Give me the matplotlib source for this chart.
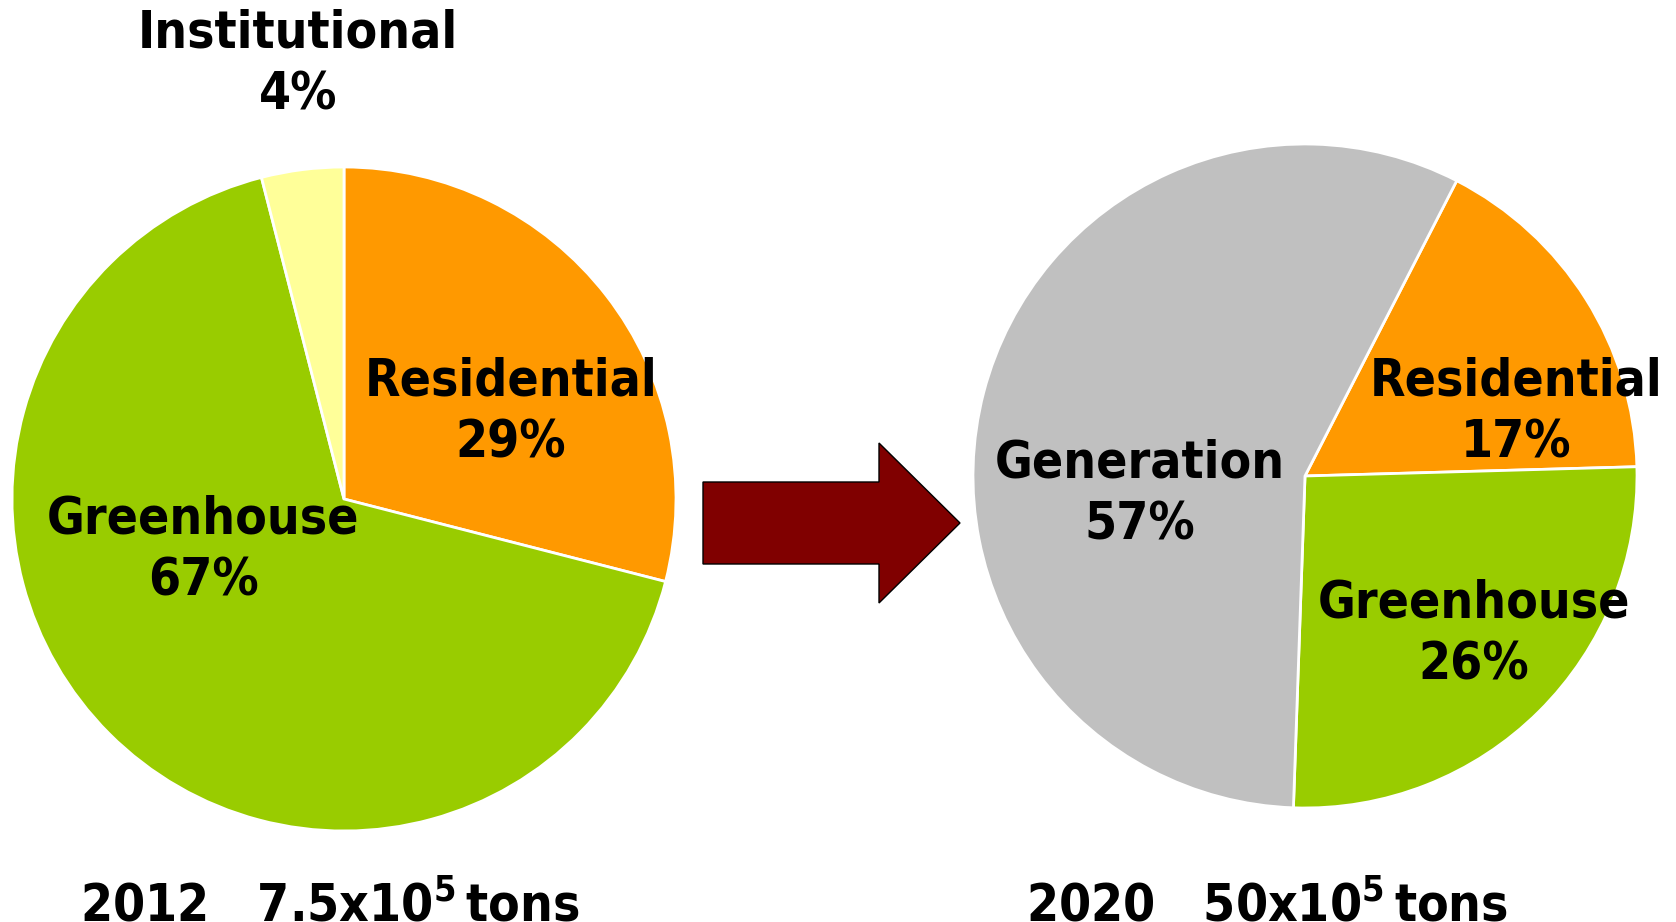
import matplotlib.pyplot as plt
from matplotlib.patches import FancyArrow

plt.rcParams['mathtext.fontset'] = 'dejavusans'
plt.rcParams['mathtext.default'] = 'regular'

# biomass use by sector, 2012 (share in %)
sectors_2012 = ['Residential', 'Greenhouse', 'Institutional']
shares_2012 = [29, 67, 4]
colors_2012 = ['#FF9900', '#99CC00', '#FFFF99']
year_2012 = '2012'
total_2012 = '7.5'

# projected use by sector, 2020 (share in %)
sectors_2020 = ['Residential', 'Greenhouse', 'Generation']
shares_2020 = [17, 26, 57]
colors_2020 = ['#FF9900', '#99CC00', '#C0C0C0']
year_2020 = '2020'
total_2020 = '50'

W, H = 1676, 922
fig = plt.figure(figsize=(W / 100, H / 100), dpi=100)
ax = fig.add_axes([0, 0, 1, 1])

font = dict(family='DejaVu Sans', weight='bold', stretch='condensed', size=37)
wedge_style = dict(edgecolor='white', linewidth=2)


def draw_pie(shares, colors, sectors, center, start, label_pos):
    ax.pie(shares, colors=colors, startangle=start, counterclock=False,
           center=center, radius=332, wedgeprops=wedge_style)
    for name, share, (x, y) in zip(sectors, shares, label_pos):
        ax.text(x, H - y, name, ha='center', va='baseline', **font)
        ax.text(x, H - y - 62, f'{share}%', ha='center', va='baseline', **font)


draw_pie(shares_2012, colors_2012, sectors_2012, (344, H - 499), 90,
         [(511, 395), (203, 533), (298, 48)])
draw_pie(shares_2020, colors_2020, sectors_2020, (1305, H - 476), 62.8,
         [(1516, 395), (1474, 617), (1140, 478)])

# arrow between the two years
ax.add_patch(FancyArrow(703, H - 523, 257, 0, width=82, head_width=160,
                        head_length=81, length_includes_head=True,
                        facecolor='#800000', edgecolor='black', linewidth=1))

# totals under each pie
ax.text(80, H - 921, f'{year_2012}   {total_2012}x10$^5\\,$tons',
        ha='left', va='baseline', **font)
ax.text(1026, H - 921, f'{year_2020}   {total_2020}x10$^5\\,$tons',
        ha='left', va='baseline', **font)

ax.set_xlim(0, W)
ax.set_ylim(0, H)
ax.set_aspect('equal')
ax.axis('off')

fig.savefig('out.png', dpi=100)
